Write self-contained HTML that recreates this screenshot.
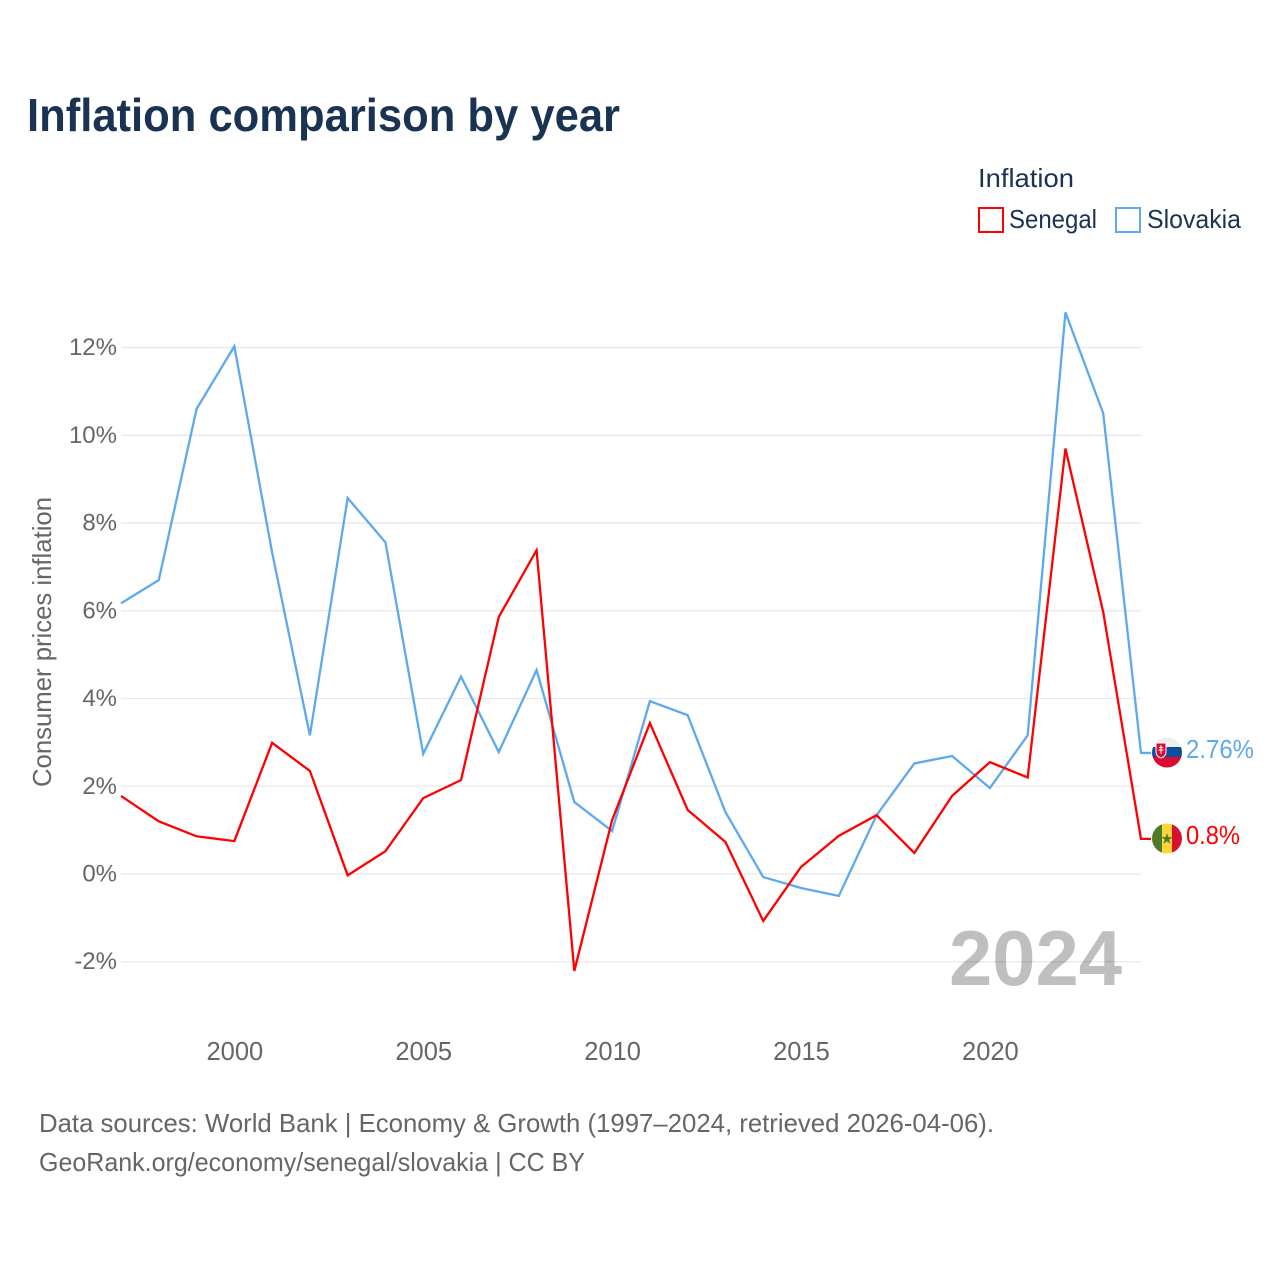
<!DOCTYPE html>
<html lang="en">
<head>
<meta charset="utf-8">
<title>Inflation comparison by year</title>
<style>
html,body{margin:0;padding:0;background:#fff;width:1280px;height:1280px;overflow:hidden}
svg{display:block;font-family:"Liberation Sans",sans-serif}
</style>
</head>
<body>
<svg id="chart" xmlns="http://www.w3.org/2000/svg" width="1280" height="1280" viewBox="0 0 1280 1280">
  <defs>
    <clipPath id="clip-sk"><circle cx="1167" cy="752.5" r="15"/></clipPath>
    <clipPath id="clip-sn"><circle cx="1167" cy="838.5" r="15"/></clipPath>
  </defs>
  <rect width="1280" height="1280" fill="#ffffff"/>
  <text x="27" y="131" font-size="46" font-weight="700" fill="#1a3353" textLength="593" lengthAdjust="spacingAndGlyphs">Inflation comparison by year</text>

  <g>
    <text x="978" y="187" font-size="26" fill="#1a3353" textLength="96" lengthAdjust="spacingAndGlyphs">Inflation</text>
    <rect x="979" y="208" width="24" height="24" fill="#ffffff" stroke="#ff0000" stroke-width="2"/>
    <text x="1009" y="228" font-size="26" fill="#1a3353" textLength="88" lengthAdjust="spacingAndGlyphs">Senegal</text>
    <rect x="1116" y="208" width="24" height="24" fill="#ffffff" stroke="#5ea9ee" stroke-width="2"/>
    <text x="1147" y="228" font-size="26" fill="#1a3353" textLength="94" lengthAdjust="spacingAndGlyphs">Slovakia</text>
  </g>

  <g id="grid"></g>
  <g id="y-ticks"></g>
  <g id="x-ticks"></g>
  <text transform="translate(51 787) rotate(-90)" font-size="26" fill="#666666" textLength="290" lengthAdjust="spacingAndGlyphs">Consumer prices inflation</text>

  <g id="series"></g>

  <text x="949" y="985" font-size="78" font-weight="700" fill="#000000" fill-opacity="0.25" textLength="173" lengthAdjust="spacingAndGlyphs">2024</text>

  <g clip-path="url(#clip-sk)">
    <rect x="1152" y="737" width="30" height="11" fill="#eeeeee"/>
    <rect x="1152" y="747" width="30" height="11" fill="#0b4ea2"/>
    <rect x="1152" y="757" width="30" height="11" fill="#dc0a32"/>
    <path d="M1156 743h10v9c0 3-2 5-5 6c-3-1-5-3-5-6z" fill="#dc0a32" stroke="#ffffff" stroke-width="1"/>
    <path d="M1161 745v9M1159 747.500h4M1158.500 750h5" stroke="#ffffff" stroke-width="1" fill="none"/>
  </g>
  <g clip-path="url(#clip-sn)">
    <rect x="1152" y="823" width="10" height="31" fill="#4f7a28"/>
    <rect x="1162" y="823" width="10" height="31" fill="#fdd43a"/>
    <rect x="1172" y="823" width="10" height="31" fill="#d8112f"/>
    <path d="M1167 833l1.400 4.100h4.300l-3.500 2.500 1.300 4.100-3.500-2.500-3.500 2.500 1.300-4.100-3.500-2.500h4.300z" fill="#4f7a28"/>
  </g>
  <text x="1186" y="758" font-size="26" fill="#5ea9ee" textLength="68" lengthAdjust="spacingAndGlyphs">2.76%</text>
  <text x="1186" y="844" font-size="26" fill="#ff0000" textLength="54" lengthAdjust="spacingAndGlyphs">0.8%</text>

  <text x="39" y="1132" font-size="26" fill="#666666" textLength="955" lengthAdjust="spacingAndGlyphs">Data sources: World Bank | Economy &amp; Growth (1997–2024, retrieved 2026-04-06).</text>
  <text x="39" y="1171" font-size="26" fill="#666666" textLength="546" lengthAdjust="spacingAndGlyphs">GeoRank.org/economy/senegal/slovakia | CC BY</text>
</svg>

<script>
const years = [1997,1998,1999,2000,2001,2002,2003,2004,2005,2006,2007,2008,2009,2010,2011,2012,2013,2014,2015,2016,2017,2018,2019,2020,2021,2022,2023,2024];
const senegalValues = [1.78,1.2,0.86,0.75,2.99,2.35,-0.03,0.52,1.73,2.14,5.86,7.38,-2.21,1.23,3.44,1.46,0.73,-1.07,0.16,0.87,1.34,0.48,1.78,2.55,2.2,9.7,5.97,0.8];
const slovakiaValues = [6.17,6.7,10.6,12.03,7.33,3.16,8.57,7.56,2.74,4.5,2.78,4.65,1.64,0.98,3.94,3.62,1.41,-0.07,-0.32,-0.5,1.34,2.52,2.69,1.96,3.16,12.8,10.5,2.76];
const yTickValues = [-2,0,2,4,6,8,10,12];
const yTickLabels = ["-2%","0%","2%","4%","6%","8%","10%","12%"];
const xTickValues = [2000,2005,2010,2015,2020];
const xTickLabels = ["2000","2005","2010","2015","2020"];

const SVG_NS = "http://www.w3.org/2000/svg";
function xScale(year) { return 121 + (year - 1997) * (1020 / 27); }
function yScale(value) { return 874 - value * 43.87; }

const gridGroup = document.getElementById("grid");
const yTickGroup = document.getElementById("y-ticks");
const xTickGroup = document.getElementById("x-ticks");
const seriesGroup = document.getElementById("series");

yTickValues.forEach(function (value, i) {
  const line = document.createElementNS(SVG_NS, "line");
  
  
  line.setAttribute("x1", 121);
  line.setAttribute("x2", 1141);
  line.setAttribute("y1", yScale(value));
  line.setAttribute("y2", yScale(value));
  line.setAttribute("stroke", "#e8e8e8");
  line.setAttribute("stroke-width", "1.300");
  gridGroup.appendChild(line);

  const label = document.createElementNS(SVG_NS, "text");
  
  
  label.setAttribute("x", 117);
  label.setAttribute("y", yScale(value) + 7.500);
  label.setAttribute("text-anchor", "end");
  label.setAttribute("font-size", "24");
  label.setAttribute("fill", "#666666");
  label.textContent = yTickLabels[i];
  yTickGroup.appendChild(label);
});

xTickValues.forEach(function (year, i) {
  const label = document.createElementNS(SVG_NS, "text");
  
  
  label.setAttribute("x", xScale(year) + 0.500);
  label.setAttribute("y", 1060);
  label.setAttribute("text-anchor", "middle");
  label.setAttribute("font-size", "25.500");
  label.setAttribute("fill", "#666666");
  label.textContent = xTickLabels[i];
  xTickGroup.appendChild(label);
});

function drawSeries(values, color, name) {
  const path = document.createElementNS(SVG_NS, "path");
  
  
  let d = values.map(function (v, i) {
    return (i ? "L" : "M") + xScale(years[i]).toFixed(2) + " " + yScale(v).toFixed(2);
  }).join("");
  d += "H" + (xScale(years[years.length - 1]) + 10).toFixed(2);
  path.setAttribute("d", d);
  path.setAttribute("fill", "none");
  path.setAttribute("stroke", color);
  path.setAttribute("stroke-width", "2.300");
  path.setAttribute("stroke-linejoin", "miter");
  seriesGroup.appendChild(path);
}
drawSeries(slovakiaValues, "#5ea9ee", "line-slovakia");
drawSeries(senegalValues, "#ff0000", "line-senegal");
</script>
</body>
</html>
